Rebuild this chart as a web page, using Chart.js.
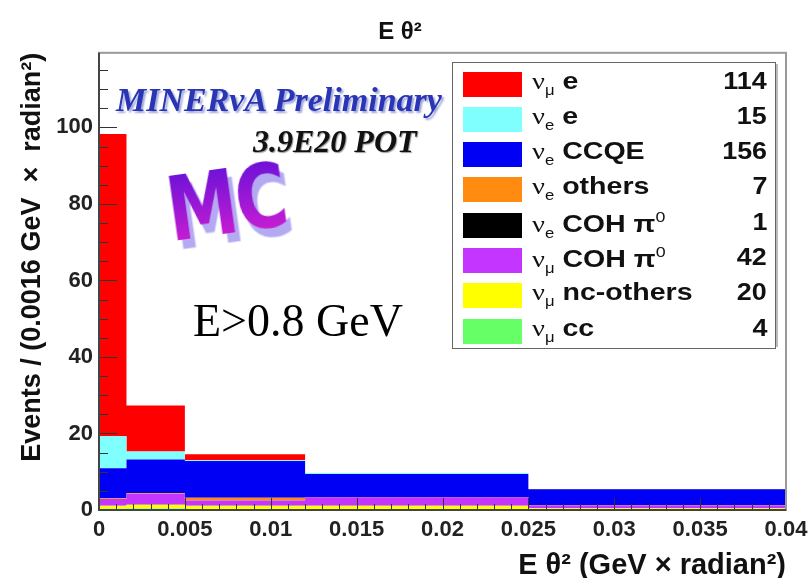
<!DOCTYPE html>
<html>
<head>
<meta charset="utf-8">
<script src="https://cdn.jsdelivr.net/npm/chart.js@4.4.1/dist/chart.umd.min.js"></script>
<style>
  body { margin: 0; background: #fff; }
  #wrap { position: relative; width: 810px; height: 578px; overflow: hidden; font-family: "Liberation Sans", Arial, sans-serif; }
  #chart { position: absolute; left: 0; top: 0; }
  .note { position: absolute; white-space: nowrap; line-height: 1; }
  #minerva { left: 116px; top: 81px; font: italic bold 34px "Liberation Serif", serif; color: #2a35b5; text-shadow: 2px 2px 2px #9fa6d8; }
  #pot { left: 253px; top: 123px; font: italic bold 32px "Liberation Serif", serif; color: #111; text-shadow: 1px 1px 1px #999; }
  #mc { left: 160px; top: 160px; font: bold 66px "DejaVu Sans", sans-serif; letter-spacing: -2px;
        background: linear-gradient(#5a10d8, #e020d0); -webkit-background-clip: text; background-clip: text; color: transparent;
        transform: rotate(-8deg) scale(1.08, 1.35); transform-origin: left top;
        filter: drop-shadow(4px 7px 0 #b3aaf2); }
  #cut { left: 193px; top: 294px; font: 46px "Liberation Serif", serif; color: #000; }
  #legend { position: absolute; left: 452px; top: 62px; width: 322px; height: 285px; border: 1px solid #666; box-shadow: 4px 0 0 -2px #bbb; background: #fff; }
  .row { position: absolute; left: 0; width: 100%; height: 35px; }
  .sw { position: absolute; left: 10px; top: 5px; width: 59px; height: 25px; }
  .lab { position: absolute; left: 79px; top: 0; line-height: 35px; font: bold 24px "Liberation Sans", Arial, sans-serif; color: #111; white-space: nowrap;
         transform: scaleX(1.19); transform-origin: left center; }
  .nu { font: 24px "Liberation Serif", serif; }
  .lab sub { font-size: 14px; vertical-align: -6px; font-weight: normal; }
  .lab sup { font-size: 15px; vertical-align: 10px; font-weight: normal; }
  .cnt { position: absolute; right: 8px; top: 0; line-height: 35px; font: bold 24px "Liberation Sans", Arial, sans-serif; color: #111;
         transform: scaleX(1.12); transform-origin: right center; }
</style>
</head>
<body>
<div id="wrap">
  <canvas id="chart" width="810" height="578"></canvas>
  <div class="note" id="minerva">MINERvA Preliminary</div>
  <div class="note" id="pot">3.9E20 POT</div>
  <div class="note" id="mc">MC</div>
  <div class="note" id="cut">E&gt;0.8 GeV</div>
  <div id="legend"></div>
</div>
<script>
// bin edges of the histogram (GeV x radian^2)
const binEdges = [0, 0.0016, 0.005, 0.012, 0.025, 0.04];

// events / (0.0016 GeV x radian^2) per bin, one array per sample
const nuMuE        = [79, 12, 1.5, 0, 0.1];
const nuEE         = [8.4, 2.1, 0.3, 0.3, 0];
const nuECCQE      = [7.8, 8.8, 9.6, 6.0, 4.15];
const nuEOthers    = [0.2, 0.2, 0.7, 0, 0.1];
const nuECohPi0    = [0, 0, 0, 0.1, 0];
const nuMuCohPi0   = [1.8, 2.8, 1.4, 2.2, 0.7];
const nuMuNcOthers = [0.8, 1.0, 0.9, 1.0, 0.4];
const nuMuCC       = [0.3, 0.4, 0.2, 0.1, 0.05];

// legend order (top to bottom)
const flavours    = ['μ', 'e', 'e', 'e', 'e', 'μ', 'μ', 'μ'];
const channels    = ['e', 'e', 'CCQE', 'others', 'COH π0', 'COH π0', 'nc-others', 'cc'];
const eventCounts = [114, 15, 156, 7, 1, 42, 20, 4];
const sampleData  = [nuMuE, nuEE, nuECCQE, nuEOthers, nuECohPi0, nuMuCohPi0, nuMuNcOthers, nuMuCC];
const colours     = ['#ff0000', '#80ffff', '#0000f5', '#ff8c10', '#000000', '#c435ff', '#ffff00', '#66ff66'];

const xTicks = [0, 0.005, 0.01, 0.015, 0.02, 0.025, 0.03, 0.035, 0.04];
const yTicks = [0, 20, 40, 60, 80, 100];

// legend box
const legend = document.getElementById('legend');
channels.forEach((ch, i) => {
    const row = document.createElement('div');
    row.className = 'row';
    row.style.top = (3.5 + i * 35.3) + 'px';
    row.innerHTML =
        '<div class="sw" style="background:' + colours[i] + '"></div>' +
        '<div class="lab"><span class="nu">ν</span><sub>' + flavours[i] + '</sub> ' +
        ch.replace('π0', 'π<sup>0</sup>') + '</div>' +
        '<div class="cnt">' + eventCounts[i] + '</div>';
    legend.appendChild(row);
});

// stacked from the bottom: last legend entry first
const datasets = sampleData.map((vals, i) => ({
    label: 'ν' + flavours[i] + ' ' + channels[i],
    data: binEdges.map((x, j) => ({ x: x, y: vals[Math.min(j, vals.length - 1)] })),
    backgroundColor: colours[i],
    borderWidth: 0,
    pointRadius: 0,
    stepped: 'before'
})).reverse();
datasets.forEach((d, i) => { d.fill = i === 0 ? 'origin' : '-1'; });

// frame + ROOT style inner tick marks
const frameTicks = {
    id: 'frameTicks',
    afterDatasetsDraw(chart) {
        const { ctx, chartArea: a, scales: { x, y } } = chart;
        ctx.save();
        ctx.strokeStyle = '#333';
        ctx.lineWidth = 1;
        ctx.beginPath();
        for (let k = 0; k * 5 <= y.max; k++) {
            const py = Math.round(y.getPixelForValue(k * 5)) + 0.5;
            const len = k % 4 === 0 ? 18 : 9;
            ctx.moveTo(a.left, py);
            ctx.lineTo(a.left + len, py);
        }
        for (let k = 0; k <= 40; k++) {
            const px = Math.round(x.getPixelForValue(k * 0.001)) + 0.5;
            const len = k % 5 === 0 ? 12 : 6;
            ctx.moveTo(px, a.bottom);
            ctx.lineTo(px, a.bottom - len);
        }
        ctx.stroke();
        ctx.strokeStyle = '#999';
        ctx.lineWidth = 2;
        ctx.strokeRect(a.left, a.top, a.right - a.left, a.bottom - a.top);
        ctx.strokeStyle = '#444';
        ctx.beginPath();
        ctx.moveTo(a.left, a.top);
        ctx.lineTo(a.left, a.bottom);
        ctx.lineTo(a.right, a.bottom);
        ctx.stroke();
        ctx.restore();
    }
};

const tickFont = { family: '"Liberation Sans", Arial, sans-serif', size: 22, weight: 'bold', lineHeight: 1.2 };

new Chart(document.getElementById('chart').getContext('2d'), {
    type: 'line',
    data: { datasets: datasets },
    options: {
        responsive: false,
        animation: false,
        events: [],
        layout: { padding: { left: 14, right: 24, top: 0, bottom: 0 } },
        plugins: {
            legend: { display: false },
            tooltip: { enabled: false },
            title: {
                display: true,
                text: 'E θ²',
                color: '#111',
                font: { family: '"Liberation Sans", Arial, sans-serif', size: 24, weight: 'bold', lineHeight: 1.2 },
                padding: { top: 18, bottom: 6 }
            }
        },
        scales: {
            x: {
                type: 'linear',
                min: 0,
                max: 0.04,
                grid: { display: false, drawTicks: false },
                border: { display: false },
                afterBuildTicks: s => { s.ticks = xTicks.map(v => ({ value: v })); },
                afterFit: s => { s.height = 68; s.paddingLeft = 0; s.paddingRight = 0; },
                ticks: { font: tickFont, color: '#222', padding: 7, maxRotation: 0, autoSkip: false,
                         callback: v => String(v) },
                title: {
                    display: true,
                    text: 'E θ² (GeV × radian²)',
                    align: 'end',
                    color: '#111',
                    font: { family: '"Liberation Sans", Arial, sans-serif', size: 29, weight: 'bold', lineHeight: 0.8 },
                    padding: 0
                }
            },
            y: {
                stacked: true,
                min: 0,
                max: 119.5,
                grid: { display: false, drawTicks: false },
                border: { display: false },
                afterBuildTicks: s => { s.ticks = yTicks.map(v => ({ value: v })); },
                afterFit: s => { s.width = 85; },
                ticks: { font: tickFont, color: '#222', padding: 6, callback: v => String(v) },
                title: {
                    display: true,
                    text: 'Events / (0.0016 GeV  ×  radian²)',
                    align: 'end',
                    color: '#111',
                    font: { family: '"Liberation Sans", Arial, sans-serif', size: 27, weight: 'bold', lineHeight: 1 },
                    padding: { top: 5, bottom: 0 }
                }
            }
        }
    },
    plugins: [frameTicks]
});
</script>
</body>
</html>
